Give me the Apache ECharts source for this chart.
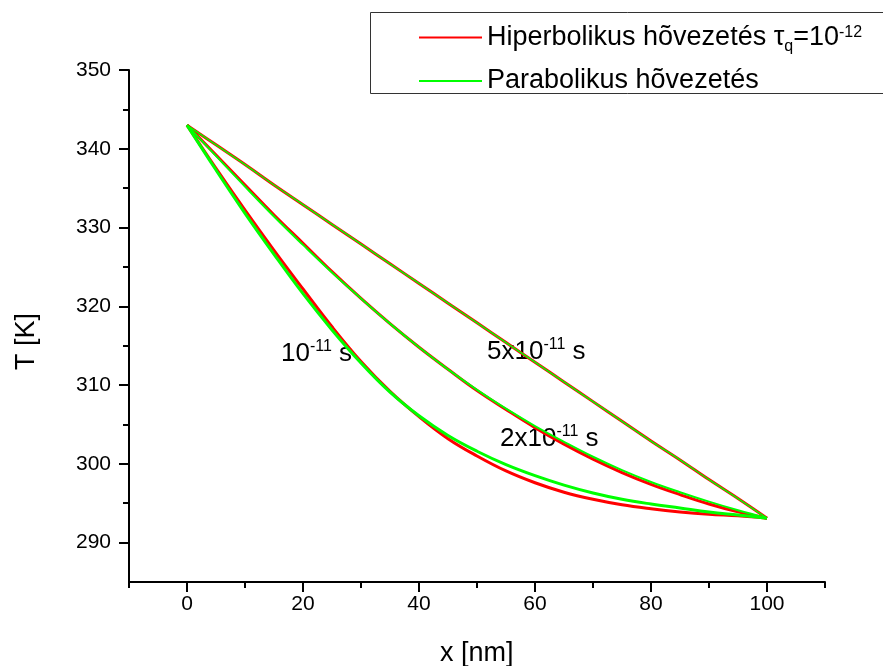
<!DOCTYPE html>
<html>
<head>
<meta charset="utf-8">
<script src="https://cdn.jsdelivr.net/npm/echarts@6/dist/echarts.min.js"></script>
<style>html,body{margin:0;padding:0;background:#fff}#c{width:883px;height:666px}</style>
</head>
<body>
<div id="c"></div>
<script>
// ---- data ----
const xMajorTicks = [0, 20, 40, 60, 80, 100];
const xMinorTicks = [-10, 10, 30, 50, 70, 90, 110];
const yMajorTicks = [290, 300, 310, 320, 330, 340, 350];
const yMinorTicks = [295, 305, 315, 325, 335, 345];

const xGrid = [0, 5, 10, 15, 20, 25, 30, 35, 40, 45, 50, 55, 60, 65, 70, 75, 80, 85, 90, 95, 100];
// t = 1e-11 s
const hyp1 = [343.0, 337.5, 332.2, 327.1, 322.2, 317.4, 313.0, 309.2, 306.0, 303.2, 301.0, 299.1, 297.6, 296.4, 295.5, 294.8, 294.3, 293.9, 293.6, 293.4, 293.1];
const par1 = [343.0, 337.3, 331.8, 326.6, 321.6, 317.0, 312.8, 309.1, 306.1, 303.6, 301.6, 299.9, 298.5, 297.3, 296.3, 295.5, 294.9, 294.4, 293.9, 293.5, 293.1];
// t = 2e-11 s
const hyp2 = [343.0, 339.2, 335.4, 331.6, 328.0, 324.4, 321.0, 317.8, 314.8, 312.0, 309.3, 306.9, 304.6, 302.5, 300.6, 298.9, 297.4, 296.1, 294.9, 293.9, 293.1];
const par2 = [343.0, 339.1, 335.2, 331.4, 327.8, 324.3, 321.0, 317.8, 314.8, 312.0, 309.4, 307.0, 304.8, 302.8, 300.9, 299.2, 297.7, 296.4, 295.2, 294.1, 293.1];
// t = 5e-11 s
const hyp5 = [343.0, 340.5, 338.0, 335.4, 332.9, 330.4, 327.9, 325.4, 322.9, 320.4, 317.9, 315.4, 312.9, 310.4, 307.9, 305.4, 302.9, 300.5, 298.0, 295.6, 293.1];
const par5 = [343.0, 340.5, 338.0, 335.4, 332.9, 330.4, 327.9, 325.4, 322.9, 320.4, 317.9, 315.4, 312.9, 310.4, 307.9, 305.4, 302.9, 300.5, 298.0, 295.6, 293.1];

const legendHyp = 'Hiperbolikus hõvezetés';
const legendPar = 'Parabolikus hõvezetés';

// ---- chart ----
const FONT = '"Liberation Sans", Arial, sans-serif';
const pairs = a => xGrid.map((x, i) => [x, a[i]]);
const mk = (name, color, data, w) => ({
  type: 'line', name, data: pairs(data), smooth: 0.4, showSymbol: false, symbol: 'none',
  lineStyle: { color, width: w }, itemStyle: { color }, xAxisIndex: 0, yAxisIndex: 0, z: color === '#00ff00' ? 3 : 2
});

const chart = echarts.init(document.getElementById('c'), null, { renderer: 'canvas' });
const axisLineStyle = { show: true, onZero: false, lineStyle: { color: '#000', width: 2 } };
const supRich = {
  a: { fontSize: 26, fontFamily: FONT, fill: '#000' },
  s: { fontSize: 16, fontFamily: FONT, fill: '#000', verticalAlign: 'bottom', padding: [0, 0, 13, 0] }
};
chart.setOption({
  animation: false,
  backgroundColor: '#fff',
  grid: { left: 129, right: 58, top: 70, bottom: 84 },
  xAxis: [
    { type: 'value', min: -10, max: 110, position: 'bottom',
      axisLine: axisLineStyle, splitLine: { show: false },
      axisTick: { show: true, inside: false, length: 10, lineStyle: { color: '#000', width: 2 }, customValues: xMajorTicks },
      axisLabel: { show: true, customValues: xMajorTicks, margin: 12, color: '#000', fontSize: 21, fontFamily: FONT } },
    { type: 'value', min: -10, max: 110, position: 'bottom', offset: 0,
      axisLine: { show: false, onZero: false }, splitLine: { show: false },
      axisTick: { show: true, length: 6, lineStyle: { color: '#000', width: 2 }, customValues: xMinorTicks },
      axisLabel: { show: false } }
  ],
  yAxis: [
    { type: 'value', min: 285, max: 350, position: 'left',
      axisLine: axisLineStyle, splitLine: { show: false },
      axisTick: { show: true, length: 10, lineStyle: { color: '#000', width: 2 }, customValues: yMajorTicks },
      axisLabel: { show: true, customValues: yMajorTicks, margin: 18, color: '#000', fontSize: 21, fontFamily: FONT } },
    { type: 'value', min: 285, max: 350, position: 'left', offset: 0,
      axisLine: { show: false, onZero: false }, splitLine: { show: false },
      axisTick: { show: true, length: 6, lineStyle: { color: '#000', width: 2 }, customValues: yMinorTicks },
      axisLabel: { show: false } }
  ],
  legend: {
    orient: 'vertical', left: 414, top: 19, itemWidth: 63, itemHeight: 14, itemGap: 13,
    data: [legendHyp, legendPar],
    icon: 'path://M0,6 L64,6 L64,8 L0,8 Z',
    formatter: n => n === legendHyp ? '{a|' + n + ' }{t|τ}{sub|q}{a|=10}{sup|-12}' : '{a|' + n + '}',
    textStyle: { color: '#000', fontFamily: FONT, fontSize: 27,
      rich: {
        a: { fontSize: 27, fontFamily: FONT, color: '#000' },
        t: { fontSize: 27, fontFamily: FONT, color: '#000' },
        sub: { fontSize: 16, fontFamily: FONT, color: '#000', verticalAlign: 'top', padding: [18, 0, 0, 0] },
        sup: { fontSize: 16, fontFamily: FONT, color: '#000', verticalAlign: 'bottom', padding: [0, 0, 14, 0] }
      } }
  },
  graphic: [
    { type: 'rect', shape: { x: 370.5, y: 12.5, width: 530, height: 81 }, style: { fill: 'none', stroke: '#333', lineWidth: 1 }, silent: true, z: 0 },
    { type: 'text', left: 440, top: 640, style: { text: 'x [nm]', font: '27px ' + FONT, fill: '#000' } },
    { type: 'text', x: 13, y: 370, rotation: Math.PI / 2, style: { text: 'T [K]', font: '27px ' + FONT, fill: '#000' } },
    { type: 'text', left: 281, top: 339, style: { text: '{a|10}{s|-11}{a| s}', rich: supRich } },
    { type: 'text', left: 487, top: 337, style: { text: '{a|5x10}{s|-11}{a| s}', rich: supRich } },
    { type: 'text', left: 500, top: 424, style: { text: '{a|2x10}{s|-11}{a| s}', rich: supRich } }
  ],
  series: [
    mk(legendHyp, '#ff0000', hyp1, 3), mk(legendHyp, '#ff0000', hyp2, 3), mk(legendHyp, '#ff0000', hyp5, 3),
    mk(legendPar, '#00ff00', par1, 3), mk(legendPar, '#00ff00', par2, 2), mk(legendPar, '#00ff00', par5, 1.5)
  ]
});
</script>
</body>
</html>
